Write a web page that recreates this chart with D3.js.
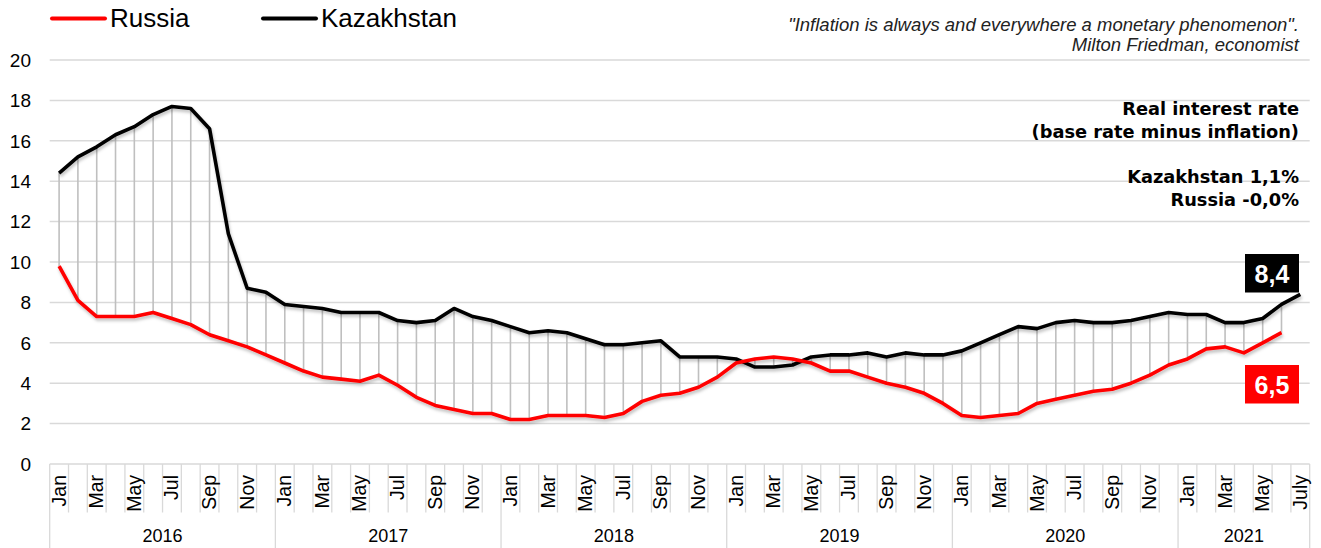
<!DOCTYPE html>
<html>
<head>
<meta charset="utf-8">
<script src="https://cdn.jsdelivr.net/npm/d3@7"></script>
<style>
  body { margin: 0; background: #fff; }
  text { font-family: "Liberation Sans", Arial, sans-serif; }
</style>
</head>
<body>
<div id="chart"></div>
<script>
// data
var years = ["2016", "2017", "2018", "2019", "2020", "2021"];
var monthNames = ["Jan","Feb","Mar","Apr","May","Jun","Jul","Aug","Sep","Oct","Nov","Dec"];
var monthsInYear = [12, 12, 12, 12, 12, 7];
var lastLabel = "July";

var kazakhstan = [14.4,15.2,15.7,16.3,16.7,17.3,17.7,17.6,16.6,11.4,8.7,8.5,
                  7.9,7.8,7.7,7.5,7.5,7.5,7.1,7.0,7.1,7.7,7.3,7.1,
                  6.8,6.5,6.6,6.5,6.2,5.9,5.9,6.0,6.1,5.3,5.3,5.3,
                  5.2,4.8,4.8,4.9,5.3,5.4,5.4,5.5,5.3,5.5,5.4,5.4,
                  5.6,6.0,6.4,6.8,6.7,7.0,7.1,7.0,7.0,7.1,7.3,7.5,
                  7.4,7.4,7.0,7.0,7.2,7.9,8.4];
var russia = [9.8,8.1,7.3,7.3,7.3,7.5,7.2,6.9,6.4,6.1,5.8,5.4,
              5.0,4.6,4.3,4.2,4.1,4.4,3.9,3.3,2.9,2.7,2.5,2.5,
              2.2,2.2,2.4,2.4,2.4,2.3,2.5,3.1,3.4,3.5,3.8,4.3,
              5.0,5.2,5.3,5.2,5.0,4.6,4.6,4.3,4.0,3.8,3.5,3.0,
              2.4,2.3,2.4,2.5,3.0,3.2,3.4,3.6,3.7,4.0,4.4,4.9,
              5.2,5.7,5.8,5.5,6.0,6.5];
var yTicks = [0, 2, 4, 6, 8, 10, 12, 14, 16, 18, 20];
var realRate = { kaz: "Kazakhstan 1,1%", rus: "Russia -0,0%" };

// categories
var cats = [];
years.forEach(function(yr, yi) {
  for (var m = 0; m < monthsInYear[yi]; m++) {
    cats.push({ key: yr + "-" + m, year: yr, label: monthNames[m] });
  }
});
cats[cats.length - 1].label = lastLabel;

var W = 1321, H = 548;
var svg = d3.select("#chart").append("svg")
  .attr("width", W).attr("height", H);

var defs = svg.append("defs");
var f = defs.append("filter").attr("id", "shadow")
  .attr("x", "-5%").attr("y", "-20%").attr("width", "110%").attr("height", "140%");
f.append("feDropShadow").attr("dx", 1).attr("dy", 2.5)
  .attr("stdDeviation", 1.6).attr("flood-color", "#000").attr("flood-opacity", 0.25);

var x = d3.scaleBand()
  .domain(cats.map(function(d) { return d.key; }))
  .range([49.7, 1309.7])
  .padding(0);
var bw = x.bandwidth();
function cx(i) { return x(cats[i].key) + bw / 2; }

var y = d3.scaleLinear().domain([0, 20]).range([464, 60]);

var fmt = d3.formatLocale({ decimal: ",", thousands: " ", grouping: [3], currency: ["", ""] }).format(".1f");

// gridlines
svg.append("g")
  .selectAll("line").data(yTicks).enter().append("line")
  .attr("x1", 49.7).attr("x2", 1309.7)
  .attr("y1", function(d) { return y(d); })
  .attr("y2", function(d) { return y(d); })
  .attr("stroke", "#d9d9d9").attr("stroke-width", 1.5);

// y labels
svg.append("g")
  .selectAll("text").data(yTicks).enter().append("text")
  .attr("x", 31)
  .attr("y", function(d) { return y(d) + 6.8; })
  .attr("text-anchor", "end")
  .attr("font-size", 19)
  .attr("fill", "#000")
  .text(function(d) { return d; });

// category axis
var axisG = svg.append("g");
axisG.selectAll("line.msep").data(cats).enter().append("line")
  .attr("class", "msep")
  .attr("x1", function(d) { return x(d.key); })
  .attr("x2", function(d) { return x(d.key); })
  .attr("y1", 464).attr("y2", function(d, i) { return cats[i].label === "Jan" ? 548 : 512.5; })
  .attr("stroke", "#d9d9d9").attr("stroke-width", 1.3);
axisG.append("line")
  .attr("x1", 1309.7).attr("x2", 1309.7).attr("y1", 464).attr("y2", 548)
  .attr("stroke", "#d9d9d9").attr("stroke-width", 1.3);

axisG.selectAll("text.mlab").data(cats.filter(function(d, i) { return i % 2 === 0; }))
  .enter().append("text")
  .attr("class", "mlab")
  .attr("transform", function(d) {
    return "translate(" + (x(d.key) + bw / 2 + 6.5) + ",475) rotate(-90)";
  })
  .attr("text-anchor", "end")
  .attr("font-size", 19.5)
  .text(function(d) { return d.label; });

var start = 0;
years.forEach(function(yr, yi) {
  var x0 = x(cats[start].key), x1 = x(cats[start + monthsInYear[yi] - 1].key) + bw;
  axisG.append("text")
    .attr("x", (x0 + x1) / 2).attr("y", 542)
    .attr("text-anchor", "middle")
    .attr("font-size", 18)
    .text(yr);
  start += monthsInYear[yi];
});

// hi-lo lines
svg.append("g")
  .selectAll("line").data(russia).enter().append("line")
  .attr("x1", function(d, i) { return cx(i); })
  .attr("x2", function(d, i) { return cx(i); })
  .attr("y1", function(d, i) { return y(kazakhstan[i]); })
  .attr("y2", function(d) { return y(d); })
  .attr("stroke", "#bfbfbf").attr("stroke-width", 1.6);

var line = d3.line()
  .x(function(d, i) { return cx(i); })
  .y(function(d) { return y(d); });

svg.append("path").datum(kazakhstan)
  .attr("fill", "none").attr("stroke", "#000").attr("stroke-width", 3.6)
  .attr("stroke-linejoin", "round").attr("filter", "url(#shadow)")
  .attr("d", line);
svg.append("path").datum(russia)
  .attr("fill", "none").attr("stroke", "#ff0000").attr("stroke-width", 3.6)
  .attr("stroke-linejoin", "round").attr("filter", "url(#shadow)")
  .attr("d", line);

// end value boxes
function valBox(val, top, color) {
  var g = svg.append("g");
  g.append("rect").attr("x", 1245).attr("y", top).attr("width", 54).attr("height", 38.5)
    .attr("fill", color);
  g.append("text").attr("x", 1272).attr("y", top + 28.7)
    .attr("text-anchor", "middle").attr("font-size", 25).attr("font-weight", "bold")
    .attr("fill", "#fff").text(fmt(val));
}
valBox(kazakhstan[kazakhstan.length - 1], 254, "#000");
valBox(russia[russia.length - 1], 365, "#ff0000");

// legend
var legend = [{ name: "Russia", color: "#ff0000", x: 52 }, { name: "Kazakhstan", color: "#000", x: 263 }];
legend.forEach(function(l) {
  svg.append("line").attr("x1", l.x).attr("x2", l.x + 53).attr("y1", 18.5).attr("y2", 18.5)
    .attr("stroke", l.color).attr("stroke-width", 4).attr("stroke-linecap", "round");
  svg.append("text").attr("x", l.x + 58).attr("y", 27).attr("font-size", 26).text(l.name);
});

// quote
svg.append("text").attr("x", 1299).attr("y", 30.5).attr("text-anchor", "end")
  .attr("font-size", 18.5).attr("font-style", "italic").attr("fill", "#222")
  .text("\"Inflation is always and everywhere a monetary phenomenon\".");
svg.append("text").attr("x", 1299).attr("y", 50.5).attr("text-anchor", "end")
  .attr("font-size", 18.5).attr("font-style", "italic").attr("fill", "#222")
  .text("Milton Friedman, economist");

// annotation
var notes = [["Real interest rate", 114.5], ["(base rate minus inflation)", 137.5],
             [realRate.kaz, 182.5], [realRate.rus, 205.5]];
notes.forEach(function(n) {
  svg.append("text").attr("x", 1299).attr("y", n[1]).attr("text-anchor", "end")
    .style("font-family", "'DejaVu Sans', sans-serif")
    .attr("font-size", 17.8).attr("font-weight", "bold").text(n[0]);
});
</script>
</body>
</html>
